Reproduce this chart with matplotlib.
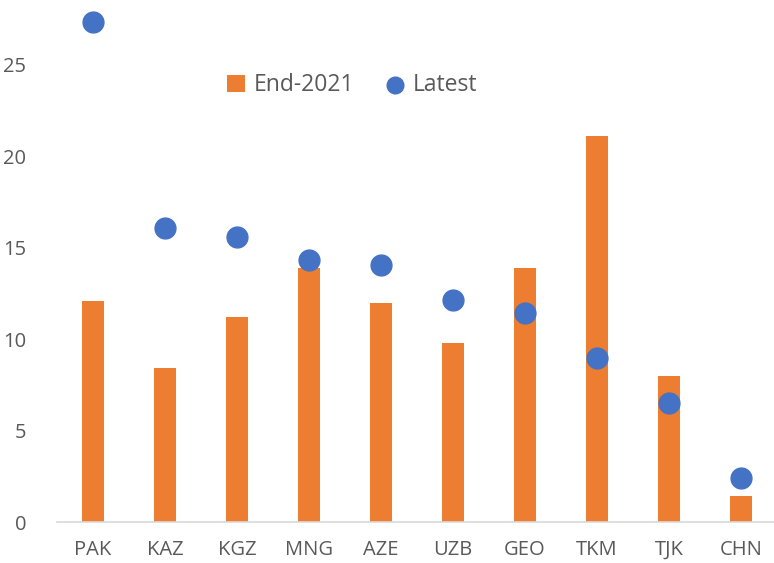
import numpy as np
import matplotlib.pyplot as plt

# DATA
countries = ["PAK", "KAZ", "KGZ", "MNG", "AZE", "UZB", "GEO", "TKM", "TJK", "CHN"]
end_2021 = [12.1, 8.4, 11.2, 13.9, 12.0, 9.8, 13.9, 21.1, 8.0, 1.4]
latest = [27.35, 16.1, 15.6, 14.35, 14.05, 12.15, 11.45, 8.95, 6.5, 2.4]
y_ticks = [0, 5, 10, 15, 20, 25]

plt.rcParams['font.family'] = ['Open Sans', 'DejaVu Sans']
text_col = "#595959"

fig = plt.figure(figsize=(7.74, 5.63), dpi=100)
ax = fig.add_axes([57 / 774, 41 / 563, 720 / 774, 512 / 563])

x = np.arange(len(countries))
bars = ax.bar(x, end_2021, width=0.31, color="#ED7D31", label="End-2021", zorder=2)
dots = ax.scatter(x, latest, s=225, color="#4472C4", label="Latest", zorder=3)

ax.set_xlim(-0.5, len(countries) - 0.5)
ax.set_ylim(0, 28)
ax.set_yticks(y_ticks)
ax.set_xticks(x)
ax.set_xticklabels(countries)
ax.tick_params(length=0, labelsize=14.5, colors=text_col)
ax.tick_params(axis="x", pad=13)
ax.tick_params(axis="y", pad=22)

for s in ["top", "right", "left"]:
    ax.spines[s].set_visible(False)
ax.spines["bottom"].set_color("#D9D9D9")
ax.spines["bottom"].set_linewidth(1.2)

leg = ax.legend([bars, dots], ["End-2021", "Latest"], loc="center left",
                bbox_to_anchor=(0.207, 0.853), ncol=2, frameon=False,
                fontsize=16.5, handlelength=0.8, handleheight=0.8,
                columnspacing=1.35, handletextpad=0.4, markerscale=0.8)
for t in leg.get_texts():
    t.set_color(text_col)

fig.savefig("out.png", dpi=100)
